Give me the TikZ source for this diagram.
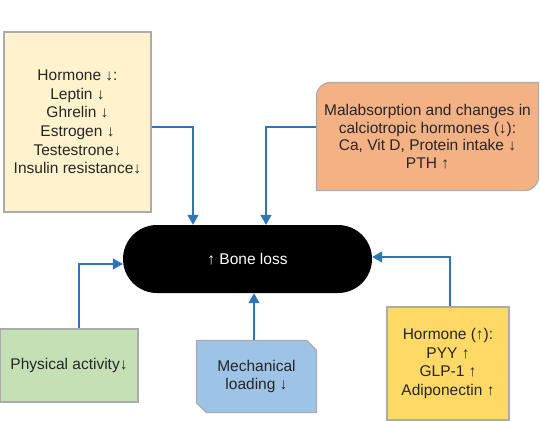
\documentclass[tikz,border=0pt]{standalone}
\usepackage{fontspec}
\setmainfont{Liberation Sans}
\usetikzlibrary{arrows.meta,positioning,backgrounds}

\definecolor{linkblue}{HTML}{2E75B6}
\definecolor{boxgray}{HTML}{ABABAB}
\definecolor{paleyellow}{HTML}{FFF2CC}
\definecolor{salmon}{HTML}{F4B183}
\definecolor{palegreen}{HTML}{C5E0B4}
\definecolor{paleblue}{HTML}{9DC3E6}
\definecolor{gold}{HTML}{FFD966}
\definecolor{inkgray}{HTML}{262626}

\begin{document}
\begin{tikzpicture}[on grid,
  factor/.style={rectangle,draw=boxgray,line width=1.2pt,inner sep=0pt,text=inkgray,align=center,font=\fontsize{15.5}{18.7}\selectfont},
  link/.style={draw=linkblue,line width=1.5pt,-{Triangle[length=10pt,width=11pt]}}]
  \useasboundingbox (0,0) rectangle (540pt,-421pt);
        \node[rectangle,rounded corners=34pt,fill=black,text=white,minimum width=249pt,minimum height=68pt,font=\fontsize{15.5}{18}\selectfont] (bone) at (247.5pt,-259pt) {↑ Bone loss};
        \node[factor,fill=paleyellow,minimum width=147pt,minimum height=180pt] (h_down) [above left=137pt and 170pt of bone] {Hormone ↓:\\Leptin ↓\\Ghrelin ↓\\Estrogen ↓\\Testestrone↓\\Insulin resistance↓};
        \node[factor,draw=none,minimum width=221pt,minimum height=107pt,font=\fontsize{15.5}{17.5}\selectfont] (malabs) [above right=122.5pt and 180pt of bone] {Malabsorption and changes in\\calciotropic hormones (↓):\\Ca, Vit D, Protein intake ↓\\PTH ↑};
        \node[factor,fill=palegreen,minimum width=138pt,minimum height=73pt] (phys) [below left=106.5pt and 178.5pt of bone] {Physical activity↓};
        \node[factor,draw=none,minimum width=119pt,minimum height=71pt] (mech) [below right=117.5pt and 9pt of bone] {Mechanical\\loading ↓};
        \node[factor,fill=gold,minimum width=122pt,minimum height=113pt] (h_up) [below right=104.5pt and 200.5pt of bone] {Hormone (↑):\\PYY ↑\\GLP-1 ↑\\Adiponectin ↑};
        % shaped boxes behind their texts
        \begin{scope}[on background layer]
        \filldraw[fill=salmon,draw=boxgray,line width=1.2pt] (malabs.south west) -- ([yshift=-14pt]malabs.north west)
          arc[start angle=180,end angle=90,radius=14pt] -- (malabs.north east) -- ([yshift=14pt]malabs.south east)
          arc[start angle=0,end angle=-90,radius=14pt] -- cycle;
        \filldraw[fill=paleblue,draw=boxgray,line width=1.2pt] (mech.north west) -- ([xshift=-10pt]mech.north east) -- ([yshift=-10pt]mech.north east)
          -- (mech.south east) -- ([xshift=10pt]mech.south west) -- ([yshift=10pt]mech.south west) -- cycle;
        \end{scope}
        \draw[link] ([yshift=-5pt]h_down.east) -| ([xshift=-54.5pt]bone.north);
        \draw[link] ([yshift=9.5pt]malabs.west) -| ([xshift=18.5pt]bone.north);
        \draw[link] ([xshift=10pt]phys.north) |- ([yshift=-5pt]bone.west);
        \draw[link] ([xshift=-2.5pt]mech.north) -- ([xshift=6.5pt]bone.south);
        \draw[link] ([xshift=2pt]h_up.north) |- ([yshift=2pt]bone.east);
    \end{tikzpicture}
\end{document}
